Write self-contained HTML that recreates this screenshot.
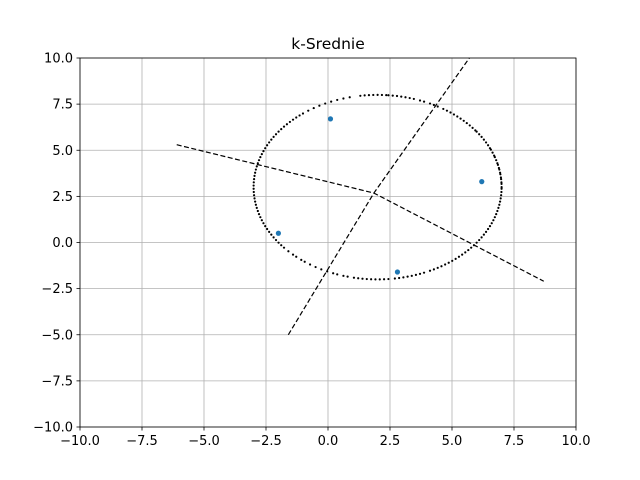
<!DOCTYPE html>
<html><head><meta charset="utf-8"><style>
body{margin:0;background:#fff;}
svg{display:block;font-family:"DejaVu Sans","Liberation Sans",sans-serif;}
</style></head><body>
<svg id="c" width="640" height="480"></svg>
<script>
const xTicks=[-10,-7.5,-5,-2.5,0,2.5,5,7.5,10];
const yTicks=[-10,-7.5,-5,-2.5,0,2.5,5,7.5,10];
const tickLabels=["\u221210.0","\u22127.5","\u22125.0","\u22122.5","0.0","2.5","5.0","7.5","10.0"];
const ellipseCenter=[2,3];
const ellipseRadius=[5,5];
const pointAngles=[0,2,3,5,6,8,9,11,12,14,15,17,19,20,22,24,25,27,29,31,33,35,37,38,40,42,44,46,48,50,52,54,56,58,61,63,65,68,70,73,75,77,79,81,83,85,86,88,90,92,94,96,98,103,106,109,112,115,118,121,124,127,129,131,133,135,137,139,141,143,145,147,149,151,153,155,157,159,161,163,165,167,169,171,173,175,177,179,181,183,185,187,189,191,193,195,197,199,201,203,205,207,209,211,213,215,217,219,221,224,227,229,232,234,237,240,243,246,249,251,254,256,259,261,263,265,267,269,271,273,275,278,280,282,284,286,288,290,292,295,297,299,301,303,305,307,309,311,313,315,317,319,321,323,325,327,329,331,333,335,337,339,341,343,345,347,349,351,353,355,357,359];
const centroidsX=[0.1,6.2,-2.0,2.8];
const centroidsY=[6.7,3.3,0.5,-1.6];
const boundaryA_X=[-6.1,1.85,8.7];
const boundaryA_Y=[5.3,2.68,-2.1];
const boundaryB_X=[-1.6,1.85,5.7];
const boundaryB_Y=[-5.0,2.68,10.0];

const L=80,R=576,T=58,B=427;
const sx=v=>L+(v+10)/20*(R-L);
const sy=v=>B-(v+10)/20*(B-T);
const svg=document.getElementById('c');
const NS='http://www.w3.org/2000/svg';
function mk(tag,attrs,parent){const e=document.createElementNS(NS,tag);for(const k in attrs)e.setAttribute(k,attrs[k]);(parent||svg).appendChild(e);return e;}

const grid=mk('g',{});


xTicks.forEach(v=>mk('line',{x1:sx(v),x2:sx(v),y1:T,y2:B,stroke:'#b0b0b0','stroke-width':0.8},grid));
yTicks.forEach(v=>mk('line',{x1:L,x2:R,y1:sy(v),y2:sy(v),stroke:'#b0b0b0','stroke-width':0.8},grid));

const pts=mk('g',{fill:'#000'});


pointAngles.forEach(a=>{const r=a*Math.PI/180;
 const c=mk('circle',{cx:sx(ellipseCenter[0]+ellipseRadius[0]*Math.cos(r)),cy:sy(ellipseCenter[1]+ellipseRadius[1]*Math.sin(r)),r:1.1},pts);
 
 });

function poly(xs,ys,name){const p=mk('polyline',{points:xs.map((x,i)=>sx(x)+','+sy(ys[i])).join(' '),fill:'none',stroke:'#000','stroke-width':1.2,'stroke-dasharray':'5,2.5'});
 
 }
poly(boundaryA_X,boundaryA_Y,'boundary-line-a');
poly(boundaryB_X,boundaryB_Y,'boundary-line-b');

centroidsX.forEach((x,i)=>{const c=mk('circle',{cx:sx(x),cy:sy(centroidsY[i]),r:2.6,fill:'#1f77b4'});
 
 });

const ax=mk('rect',{x:L,y:T,width:R-L,height:B-T,fill:'none',stroke:'#000','stroke-width':0.8});



xTicks.forEach((v,i)=>{mk('line',{x1:sx(v),x2:sx(v),y1:B,y2:B+3.5,stroke:'#000','stroke-width':0.8});
 const t=mk('text',{x:sx(v),y:B+18,'font-size':13,'text-anchor':'middle'});t.textContent=tickLabels[i];
 
 });
yTicks.forEach((v,i)=>{mk('line',{x1:L-3.5,x2:L,y1:sy(v),y2:sy(v),stroke:'#000','stroke-width':0.8});
 const t=mk('text',{x:L-7,y:sy(v)+4.5,'font-size':13,'text-anchor':'end'});t.textContent=tickLabels[i];
 
 });

const title=mk('text',{x:(L+R)/2,y:T-9,'font-size':15.5,'text-anchor':'middle'});
title.textContent='k-Srednie';


</script>
</body></html>
